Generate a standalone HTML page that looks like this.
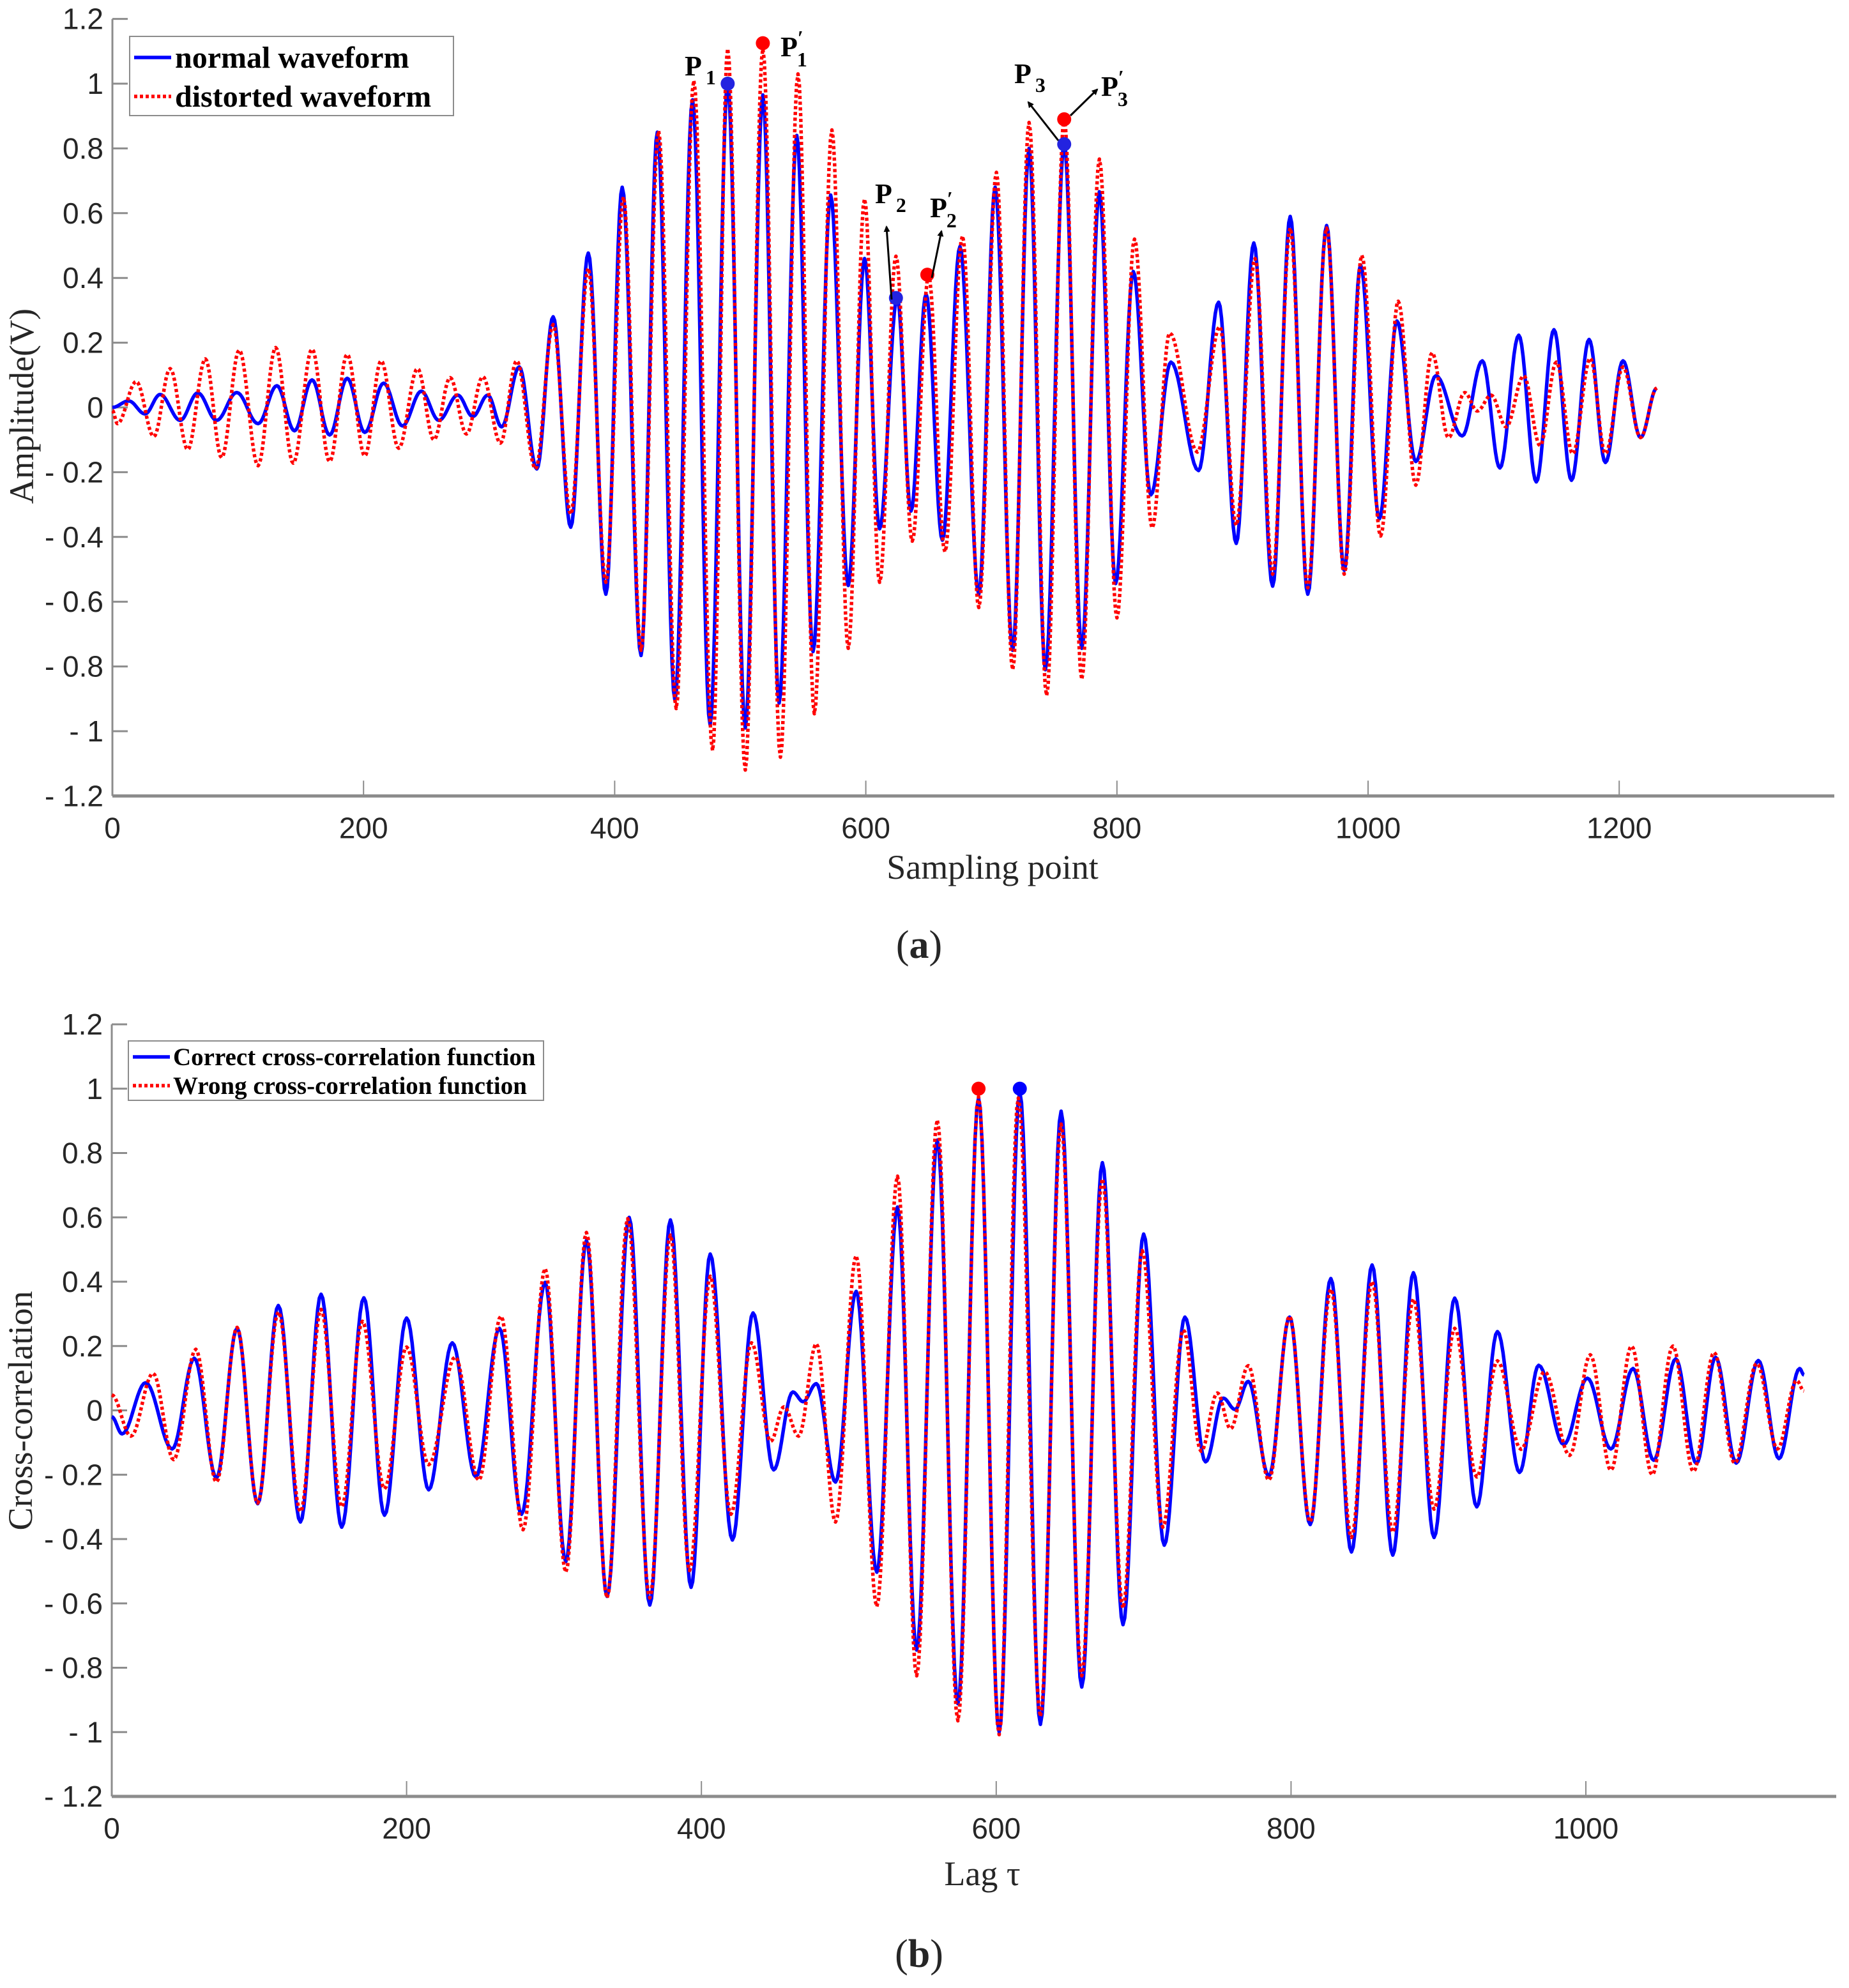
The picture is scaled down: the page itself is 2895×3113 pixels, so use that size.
<!DOCTYPE html>
<html><head><meta charset="utf-8">
<style>
html,body{margin:0;padding:0;background:#fff;}
svg{display:block;}
.tick{font-family:"Liberation Sans",Arial,sans-serif;font-size:46px;fill:#262626;}
.ttl{font-family:"Liberation Serif","Times New Roman",serif;font-size:54px;fill:#262626;}
.leg{font-family:"Liberation Serif",serif;font-weight:bold;fill:#000;}
.ann{font-family:"Liberation Serif",serif;font-weight:bold;font-size:44px;fill:#000;}
.sub{font-size:32px;}
</style></head>
<body>
<svg id="fig" width="2895" height="3113" viewBox="0 0 2895 3113" xmlns="http://www.w3.org/2000/svg">
<defs>
<marker id="ah" markerWidth="10" markerHeight="10" refX="8" refY="5" orient="auto" markerUnits="userSpaceOnUse"><path d="M0,0 L10,5 L0,10 z" fill="#000"/></marker>
</defs>
</svg>
<script>
// ---------- Data: panel (a) extrema (sampling point, amplitude) ----------
const aNormalX=[0,13,26,38,54,68,83,99,116,131,145,159,173,187,201,216,231,246,260,275,287,299,310,324,338,351,365,379,393,406,421,434,448,462,476,490,504,518,531,545,558,572,586,599,611,625,636,648,661,675,690,703,717,730,743,758,772,786,799,813,827,843,865,881,895,909,924,938,952,967,981,994,1009,1023,1038,1054,1075,1091,1105,1120,1134,1148,1162,1176,1189,1203,1217,1230];
const aNormalY=[0,0.02,-0.02,0.04,-0.04,0.045,-0.04,0.046,-0.05,0.067,-0.072,0.085,-0.085,0.09,-0.077,0.075,-0.057,0.05,-0.04,0.038,-0.028,0.038,-0.06,0.125,-0.19,0.28,-0.37,0.477,-0.577,0.68,-0.766,0.85,-0.905,0.95,-0.98,1.0,-0.99,0.965,-0.913,0.84,-0.754,0.656,-0.55,0.46,-0.375,0.34,-0.32,0.35,-0.41,0.497,-0.577,0.68,-0.75,0.8,-0.81,0.816,-0.744,0.666,-0.544,0.42,-0.27,0.14,-0.195,0.325,-0.42,0.508,-0.552,0.59,-0.577,0.562,-0.503,0.44,-0.344,0.267,-0.167,0.098,-0.088,0.144,-0.187,0.223,-0.23,0.24,-0.225,0.21,-0.17,0.144,-0.093,0.06];
const aDistX=[0,4,19,33,46,60,74,87,101,116,130,144,159,173,187,201,214,228,243,256,269,282,295,309,322,337,351,365,379,393,407,421,435,449,463,478,490,504,518,532,546,559,573,586,599,611,624,637,650,663,677,690,704,717,730,744,758,772,786,800,814,828,842,864,882,895,910,924,938,952,967,981,995,1010,1024,1038,1051,1064,1077,1087,1098,1110,1124,1137,1150,1163,1177,1189,1203,1217,1230];
const aDistY=[-0.01,-0.05,0.08,-0.09,0.12,-0.13,0.15,-0.155,0.177,-0.18,0.185,-0.172,0.18,-0.167,0.164,-0.15,0.144,-0.126,0.12,-0.1,0.092,-0.082,0.095,-0.11,0.144,-0.19,0.256,-0.33,0.43,-0.54,0.65,-0.75,0.854,-0.93,1.01,-1.06,1.108,-1.12,1.108,-1.08,1.03,-0.946,0.857,-0.744,0.644,-0.54,0.467,-0.413,0.407,-0.446,0.53,-0.618,0.726,-0.81,0.88,-0.89,0.89,-0.84,0.767,-0.65,0.52,-0.372,0.23,-0.138,0.25,-0.364,0.46,-0.515,0.554,-0.557,0.554,-0.515,0.47,-0.397,0.328,-0.24,0.169,-0.093,0.046,-0.011,0.038,-0.06,0.098,-0.118,0.14,-0.143,0.152,-0.143,0.125,-0.093,0.06];
const aMarkNormalX=[490,624,758], aMarkNormalY=[1.0,0.338,0.813];
const aMarkDistX=[518,649,758], aMarkDistY=[1.125,0.41,0.89];
const aXTicks=[0,200,400,600,800,1000,1200];
const aYTicks=[1.2,1,0.8,0.6,0.4,0.2,0,-0.2,-0.4,-0.6,-0.8,-1,-1.2];
const aYTickLabels=["1.2","1","0.8","0.6","0.4","0.2","0","- 0.2","- 0.4","- 0.6","- 0.8","- 1","- 1.2"];

// ---------- Data: panel (b) extrema (lag, correlation) ----------
const bCorrectX=[0,7,23,41,56,71,85,99,113,128,142,156,171,185,200,215,231,247,263,278,294,308,322,336,351,365,379,393,406,421,435,449,462,469,478,491,505,519,533,546,560,574,588,602,616,630,644,658,672,686,700,714,728,742,754,762,771,785,799,813,827,841,855,869,883,897,911,926,940,955,968,985,1001,1017,1032,1046,1061,1075,1088,1102,1117,1131,1145,1148];
const bCorrectY=[-0.02,-0.073,0.086,-0.12,0.162,-0.21,0.255,-0.29,0.326,-0.347,0.361,-0.363,0.35,-0.326,0.287,-0.247,0.21,-0.207,0.255,-0.323,0.398,-0.47,0.528,-0.578,0.6,-0.605,0.592,-0.55,0.486,-0.403,0.303,-0.185,0.057,0.027,0.083,-0.223,0.37,-0.503,0.632,-0.745,0.84,-0.912,0.971,-1.0,0.99,-0.976,0.93,-0.86,0.77,-0.666,0.548,-0.419,0.29,-0.16,0.038,0.003,0.09,-0.204,0.29,-0.355,0.41,-0.44,0.452,-0.45,0.428,-0.395,0.349,-0.3,0.245,-0.193,0.14,-0.106,0.1,-0.12,0.13,-0.155,0.16,-0.165,0.165,-0.164,0.155,-0.15,0.13,0.11];
const bWrongX=[0,13,28,42,57,71,85,99,113,128,142,156,170,185,200,215,233,249,264,279,294,308,322,336,350,365,379,392,406,420,434,447,456,466,478,491,505,519,533,546,560,574,588,602,615,630,644,658,672,686,699,713,727,739,750,759,771,785,799,813,827,841,855,869,883,897,911,926,940,956,972,989,1003,1017,1031,1045,1059,1073,1087,1101,1116,1130,1143,1148];
const bWrongY=[0.048,-0.08,0.115,-0.153,0.19,-0.223,0.258,-0.288,0.306,-0.315,0.314,-0.3,0.277,-0.244,0.197,-0.169,0.166,-0.217,0.293,-0.371,0.441,-0.503,0.553,-0.583,0.596,-0.583,0.545,-0.498,0.417,-0.323,0.21,-0.096,0.011,-0.08,0.207,-0.347,0.481,-0.61,0.728,-0.825,0.903,-0.965,0.975,-1.008,0.971,-0.952,0.89,-0.825,0.72,-0.615,0.497,-0.363,0.25,-0.127,0.054,-0.057,0.139,-0.217,0.293,-0.347,0.377,-0.395,0.401,-0.379,0.346,-0.307,0.255,-0.207,0.154,-0.121,0.12,-0.14,0.173,-0.186,0.2,-0.2,0.2,-0.19,0.18,-0.164,0.146,-0.12,0.093,0.06];
const bMarkCorrectX=[616], bMarkCorrectY=[1.0];
const bMarkWrongX=[588], bMarkWrongY=[1.0];
const bXTicks=[0,200,400,600,800,1000];
const bYTicks=[1.2,1,0.8,0.6,0.4,0.2,0,-0.2,-0.4,-0.6,-0.8,-1,-1.2];
const bYTickLabels=["1.2","1","0.8","0.6","0.4","0.2","0","- 0.2","- 0.4","- 0.6","- 0.8","- 1","- 1.2"];

// ---------- Rendering ----------
const NS="http://www.w3.org/2000/svg";
const svg=document.getElementById('fig');
function mk(tag,attrs,parent,text){const e=document.createElementNS(NS,tag);for(const k in attrs)e.setAttribute(k,attrs[k]);if(text!==undefined)e.textContent=text;(parent||svg).appendChild(e);return e;}

function panel(cfg){
  const g=mk('g',{});
  
  
  const X=v=>cfg.x0+v*cfg.xs, Y=v=>cfg.yz-v*cfg.ys;
  const top=Y(1.2), bot=Y(-1.2);
  const yax=mk('line',{x1:cfg.x0,y1:top,x2:cfg.x0,y2:bot,stroke:'#8c8c8c','stroke-width':3},g);
  
  
  const xax=mk('line',{x1:cfg.x0,y1:bot,x2:cfg.xEnd,y2:bot,stroke:'#8c8c8c','stroke-width':5},g);
  
  
  cfg.yTicks.forEach((v,i)=>{
    const t=mk('line',{x1:cfg.x0,y1:Y(v),x2:cfg.x0+24,y2:Y(v),stroke:'#8c8c8c','stroke-width':3},g);
    
    
    const l=mk('text',{x:cfg.x0-14,y:Y(v)+16,'text-anchor':'end',class:'tick'},g,cfg.yLabels[i]);
    
    
  });
  cfg.xTicks.forEach(v=>{
    const t=mk('line',{x1:X(v),y1:bot,x2:X(v),y2:bot-24,stroke:'#8c8c8c','stroke-width':2},g);
    
    
    const l=mk('text',{x:X(v),y:bot+66,'text-anchor':'middle',class:'tick'},g,String(v));
    
    
  });
  cfg.series.forEach(s=>{
    let d='';
    for(let i=0;i<s.x.length;i++){
      if(i===0){d+='M'+X(s.x[0]).toFixed(1)+','+Y(s.y[0]).toFixed(1);continue;}
      const x0=s.x[i-1],y0=s.y[i-1],x1=s.x[i],y1=s.y[i];
      const n=12;
      for(let k=1;k<=n;k++){const t=k/n;const xx=x0+(x1-x0)*t;const yy=y0+(y1-y0)*(1-Math.cos(Math.PI*t))/2;d+=' L'+X(xx).toFixed(1)+','+Y(yy).toFixed(1);}
    }
    const p=mk('path',{d:d,fill:'none',stroke:s.color,'stroke-width':s.w,'stroke-dasharray':s.dash||'none','stroke-linejoin':'round'},g);
    
    
  });
  cfg.markers.forEach(m=>{
    for(let i=0;i<m.x.length;i++){
      const c=mk('circle',{cx:X(m.x[i]),cy:Y(m.y[i]),r:11,fill:m.color},g);
      
      
    }
  });
  return {X,Y};
}

const A=panel({name:'panel-a',x0:176,xs:1.966,yz:638,ys:507,xEnd:2872,yTicks:aYTicks,yLabels:aYTickLabels,xTicks:aXTicks,
  series:[{name:'normal-waveform-line',x:aNormalX,y:aNormalY,color:'#0000ff',w:5.5},
          {name:'distorted-waveform-line',x:aDistX,y:aDistY,color:'#ff0000',w:5.5,dash:'5 4'}],
  markers:[{name:'normal-peak-marker',x:aMarkNormalX,y:aMarkNormalY,color:'#2323e0'},
           {name:'distorted-peak-marker',x:aMarkDistX,y:aMarkDistY,color:'#ff0000'}]});
const B=panel({name:'panel-b',x0:175,xs:2.308,yz:2208.5,ys:503.75,xEnd:2875,yTicks:bYTicks,yLabels:bYTickLabels,xTicks:bXTicks,
  series:[{name:'correct-correlation-line',x:bCorrectX,y:bCorrectY,color:'#0000ff',w:5.5},
          {name:'wrong-correlation-line',x:bWrongX,y:bWrongY,color:'#ff0000',w:5.5,dash:'5 4'}],
  markers:[{name:'correct-max-marker',x:bMarkCorrectX,y:bMarkCorrectY,color:'#0000ff'},
           {name:'wrong-max-marker',x:bMarkWrongX,y:bMarkWrongY,color:'#ff0000'}]});
</script>

<script>
(function(){
const NS="http://www.w3.org/2000/svg";const svg=document.getElementById('fig');
function el(tag,attrs,html){const e=document.createElementNS(NS,tag);for(const k in attrs)e.setAttribute(k,attrs[k]);if(html!==undefined)e.innerHTML=html;svg.appendChild(e);return e;}
let e;
e=el('text',{x:52,y:636,'text-anchor':'middle',class:'ttl',transform:'rotate(-90 52 636)'},'Amplitude(V)');


e=el('text',{x:1554,y:1376,'text-anchor':'middle',class:'ttl'},'Sampling point');


e=el('text',{x:1439,y:1500,'text-anchor':'middle',class:'ttl',style:'font-size:62px'},'(<tspan font-weight="bold">a</tspan>)');


e=el('text',{x:50,y:2209,'text-anchor':'middle',class:'ttl',transform:'rotate(-90 50 2209)'},'Cross-correlation');


e=el('text',{x:1538,y:2952,'text-anchor':'middle',class:'ttl'},'Lag τ');


e=el('text',{x:1439,y:3080,'text-anchor':'middle',class:'ttl',style:'font-size:62px'},'(<tspan font-weight="bold">b</tspan>)');



e=el('rect',{x:203,y:57,width:507,height:124,fill:'#fff',stroke:'#8c8c8c','stroke-width':2});


e=el('line',{x1:210,y1:90,x2:268,y2:90,stroke:'#0000ff','stroke-width':5.5});


e=el('text',{x:274,y:106,class:'leg',style:'font-size:48px'},'normal waveform');


e=el('line',{x1:210,y1:151,x2:268,y2:151,stroke:'#ff0000','stroke-width':5.5,'stroke-dasharray':'5 4'});


e=el('text',{x:274,y:167,class:'leg',style:'font-size:48px'},'distorted waveform');



e=el('rect',{x:201,y:1630,width:650,height:93,fill:'#fff',stroke:'#8c8c8c','stroke-width':2});


e=el('line',{x1:208,y1:1655,x2:266,y2:1655,stroke:'#0000ff','stroke-width':5.5});


e=el('text',{x:271,y:1668,class:'leg',style:'font-size:39px'},'Correct cross-correlation function');


e=el('line',{x1:208,y1:1700,x2:266,y2:1700,stroke:'#ff0000','stroke-width':5.5,'stroke-dasharray':'5 4'});


e=el('text',{x:271,y:1713,class:'leg',style:'font-size:39px'},'Wrong cross-correlation function');



const ann=[['P','1','',1072,118,'label-p1'],['P','1','′',1222,88,'label-p1-prime'],['P','2','',1370,318,'label-p2'],['P','2','′',1456,340,'label-p2-prime'],['P','3','',1588,130,'label-p3'],['P','3','′',1724,150,'label-p3-prime']];
ann.forEach(a=>{
  const t=el('text',{x:a[3],y:a[4],class:'ann'},a[0]+(a[2]?'<tspan class="sub" dy="-18">'+a[2]+'</tspan><tspan class="sub" dx="-10" dy="34">'+a[1]+'</tspan>':'<tspan class="sub" dx="6" dy="14">'+a[1]+'</tspan>'));
  
  
});
const arr=[[1396,469,1388,355,'arrow-p2'],[1459,435,1474,362,'arrow-p2-prime'],[1657,220,1610,160,'arrow-p3'],[1676,181,1718,140,'arrow-p3-prime']];
arr.forEach(a=>{
  const l=el('line',{x1:a[0],y1:a[1],x2:a[2],y2:a[3],stroke:'#000','stroke-width':3,'marker-end':'url(#ah)'});
  
  
});
})();
</script>
</body></html>
